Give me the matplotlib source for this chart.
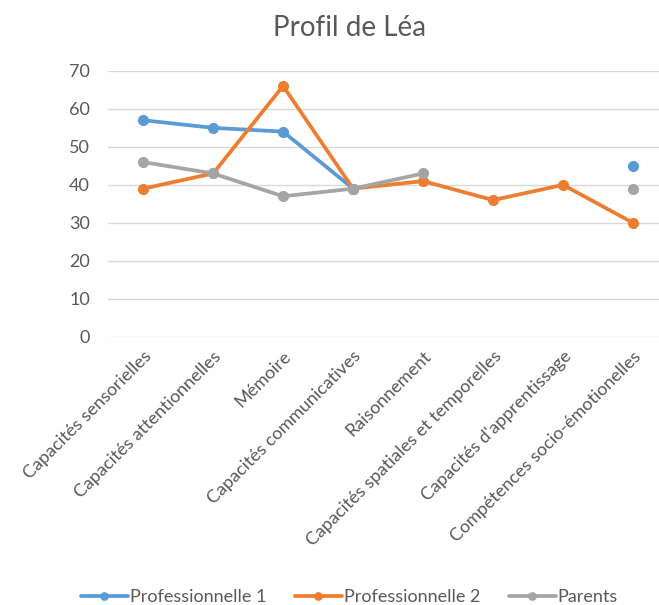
import matplotlib.pyplot as plt
import numpy as np

plt.rcParams["font.family"] = ["Lato", "DejaVu Sans"]

categories = [
    "Capacités sensorielles",
    "Capacités attentionnelles",
    "Mémoire",
    "Capacités communicatives",
    "Raisonnement",
    "Capacités spatiales et temporelles",
    "Capacités d'apprentissage",
    "Compétences socio-émotionelles",
]
pro1 = [57, 55, 54, 39, np.nan, np.nan, np.nan, 45]
pro2 = [39, 43, 66, 39, 41, 36, 40, 30]
parents = [46, 43, 37, 39, 43, np.nan, np.nan, 39]

series = [
    ("Professionnelle 1", pro1, "#5B9BD5"),
    ("Professionnelle 2", pro2, "#ED7D31"),
    ("Parents", parents, "#A5A5A5"),
]

text_c = "#595959"
fig = plt.figure(figsize=(6.59, 6.05), dpi=100)
ax = fig.add_axes([0.164, 0.443, 0.836, 0.44])

x = np.arange(len(categories))
for name, vals, col in series:
    ax.plot(x, vals, color=col, lw=2.7, marker="o", markersize=7,
            label=name, solid_capstyle="round")

ax.set_ylim(0, 70)
ax.set_yticks(range(0, 71, 10))
ax.set_xlim(-0.5, 7.37)
ax.set_xticks(x)
ax.set_xticklabels(categories, rotation=45, ha="right",
                   rotation_mode="anchor", fontsize=13, color=text_c)
ax.tick_params(axis="y", labelsize=13, labelcolor=text_c, length=0, pad=13)
ax.tick_params(axis="x", length=0, pad=8)
ax.grid(axis="y", color="#D9D9D9", lw=1)
ax.set_axisbelow(True)
for s in ax.spines.values():
    s.set_visible(False)

fig.text(0.53, 0.954, "Profil de Léa", ha="center", va="center",
         fontsize=20, color=text_c)

fig.legend(loc="center", bbox_to_anchor=(0.53, 0.013), ncol=3, frameon=False,
           fontsize=13, labelcolor=text_c, handlelength=2.6,
           handletextpad=0.1, columnspacing=1.6, markerscale=0.75)

fig.savefig("out.png", dpi=100)
